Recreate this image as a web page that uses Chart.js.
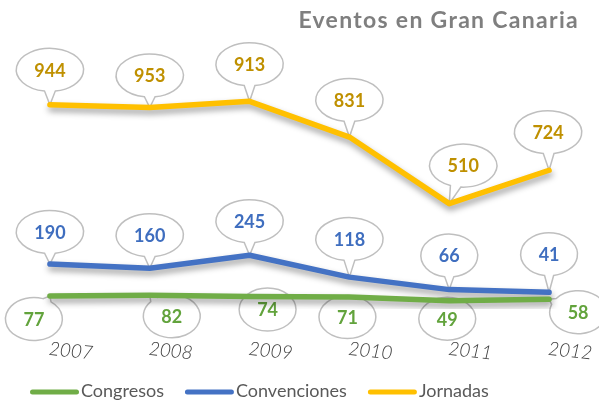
<!DOCTYPE html>
<html>
<head>
<meta charset="utf-8">
<title>Eventos en Gran Canaria</title>
<script src="https://cdn.jsdelivr.net/npm/chart.js@4.4.1/dist/chart.umd.min.js"></script>
<style>
  html, body { margin: 0; padding: 0; background: #fff; }
  #chart { display: block; }
</style>
</head>
<body>
<canvas id="chart" width="599" height="400"></canvas>
<script>
// datos del gráfico (líneas apiladas)
const years = ['2007', '2008', '2009', '2010', '2011', '2012']
const congresos = [77, 82, 74, 71, 49, 58]
const convenciones = [190, 160, 245, 118, 66, 41]
const jornadas = [944, 953, 913, 831, 510, 724]

const chartTitle = 'Eventos en Gran Canaria'
const FONT = 'Lato, "Noto Sans", sans-serif'

// desplazamiento de cada globo respecto a su punto [dx, dy]
const calloutOffsets = {
  Congresos: [[-16, 23], [22, 21], [18, 13], [-2, 20], [-2, 18], [29, 13]],
  Convenciones: [[0, -32], [0, -33], [0, -34], [0, -38], [0, -34], [0, -38]],
  Jornadas: [[0, -35], [0, -32], [0, -37], [0, -37], [14, -38], [-1, -38]]
}
const labelColors = { Congresos: '#62a33c', Convenciones: '#3f6ebf', Jornadas: '#bf9000' }

/**
 * Dibuja un globo de texto con cola apuntando al punto
 */
function drawCallout(ctx, cx, cy, tx, ty, text, color) {
  ctx.font = 'bold 18px ' + FONT
  const tw = ctx.measureText(text).width
  const rx = tw / 2 + 18
  const ry = 21.5
  const nx = (tx - cx) / rx
  const ny = (ty - cy) / ry
  ctx.beginPath()
  if (nx * nx + ny * ny < 1.2) {
    // el punto queda dentro del globo: sin cola
    ctx.ellipse(cx, cy, rx, ry, 0, 0, Math.PI * 2)
  } else {
    const t = Math.atan2(ny, nx)
    const d = 0.16
    ctx.ellipse(cx, cy, rx, ry, 0, t + d, t - d + Math.PI * 2)
    ctx.lineTo(tx, ty)
    ctx.closePath()
  }
  ctx.fillStyle = '#fff'
  ctx.fill()
  ctx.strokeStyle = '#bfbfbf'
  ctx.lineWidth = 1.5
  ctx.stroke()
  ctx.fillStyle = color
  ctx.textAlign = 'center'
  ctx.textBaseline = 'middle'
  ctx.fillText(text, cx, cy + 1)
}

const decorPlugin = {
  id: 'decor',
  beforeDatasetsDraw(chart) {
    const ctx = chart.ctx
    ctx.save()
    chart.data.datasets.forEach((ds, di) => {
      const meta = chart.getDatasetMeta(di)
      meta.data.forEach((pt, i) => {
        const off = calloutOffsets[ds.label][i]
        drawCallout(ctx, pt.x + off[0], pt.y + off[1], pt.x, pt.y, String(ds.data[i]), labelColors[ds.label])
      })
    })
    ctx.restore()
  },
  beforeDatasetDraw(chart) {
    const ctx = chart.ctx
    ctx.save()
    ctx.shadowColor = 'rgba(0, 0, 0, 0.38)'
    ctx.shadowBlur = 6
    ctx.shadowOffsetX = 1
    ctx.shadowOffsetY = 4
  },
  afterDatasetDraw(chart) {
    chart.ctx.restore()
  },
  afterDraw(chart) {
    const ctx = chart.ctx
    const area = chart.chartArea
    ctx.save()

    // título
    ctx.font = 'bold 23px ' + FONT
    ctx.letterSpacing = '1.3px'
    ctx.fillStyle = '#7f7f7f'
    ctx.textAlign = 'right'
    ctx.textBaseline = 'alphabetic'
    ctx.fillText(chartTitle, 579, 28)
    ctx.letterSpacing = '0px'

    // etiquetas del eje X, inclinadas
    const xs = chart.scales.x
    ctx.font = 'italic 300 19px ' + FONT
    ctx.fillStyle = '#404040'
    ctx.textAlign = 'center'
    ctx.textBaseline = 'middle'
    years.forEach((y, i) => {
      ctx.save()
      ctx.translate(xs.getPixelForValue(i) + 21, area.bottom + 42)
      ctx.rotate(6 * Math.PI / 180)
      ctx.fillText(y, 0, 0)
      ctx.restore()
    })

    // leyenda
    let x = 30
    const ly = 392
    ctx.font = '18px ' + FONT
    ctx.textAlign = 'left'
    ctx.lineCap = 'round'
    ctx.lineWidth = 5
    chart.data.datasets.forEach(ds => {
      ctx.strokeStyle = ds.borderColor
      ctx.beginPath()
      ctx.moveTo(x + 2.5, ly)
      ctx.lineTo(x + 46.5, ly)
      ctx.stroke()
      x += 51
      ctx.fillStyle = '#595959'
      ctx.fillText(ds.label, x, ly - 1)
      x += ctx.measureText(ds.label).width + 21
    })
    ctx.restore()
  }
}

const lineStyle = {
  fill: false,
  borderWidth: 5.5,
  borderCapStyle: 'round',
  borderJoinStyle: 'round',
  pointRadius: 0,
  tension: 0
}

new Chart(document.getElementById('chart'), {
  type: 'line',
  data: {
    labels: years,
    datasets: [
      { label: 'Congresos', data: congresos, borderColor: '#70ad47', ...lineStyle },
      { label: 'Convenciones', data: convenciones, borderColor: '#4472c4', ...lineStyle },
      { label: 'Jornadas', data: jornadas, borderColor: '#ffc000', ...lineStyle }
    ]
  },
  options: {
    responsive: false,
    animation: false,
    layout: { padding: { top: 73, bottom: 91, left: 0, right: 0 } },
    plugins: {
      legend: { display: false },
      title: { display: false },
      tooltip: { enabled: false }
    },
    scales: {
      x: { display: false, offset: true },
      y: { display: false, stacked: true, min: 0, max: 1400 }
    }
  },
  plugins: [decorPlugin]
})
</script>
</body>
</html>
